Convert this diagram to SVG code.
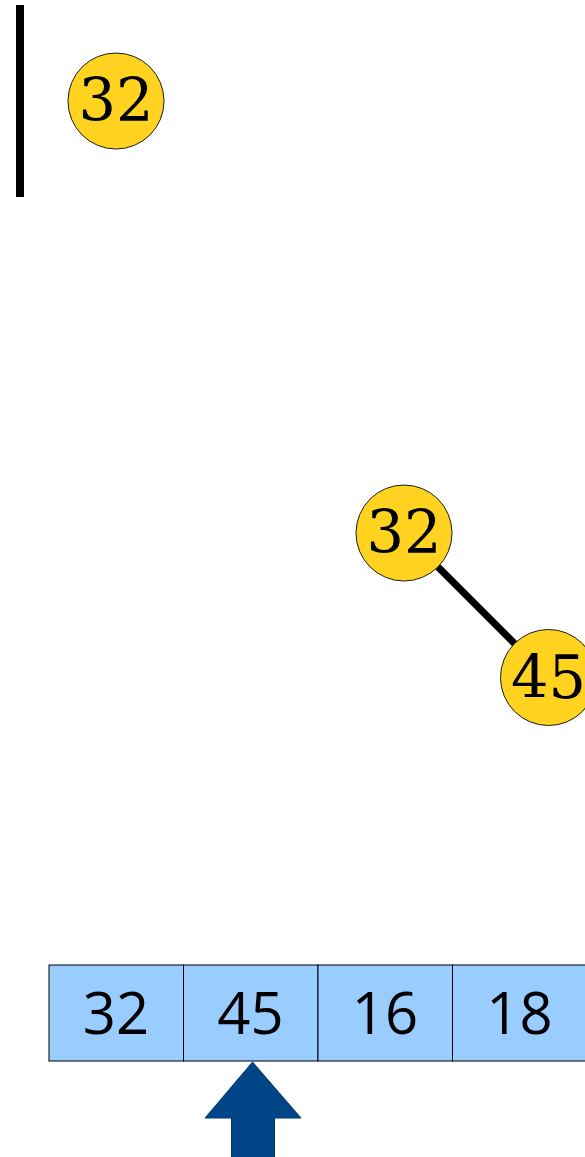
<svg xmlns="http://www.w3.org/2000/svg" width="585" height="1157" viewBox="0 0 585 1157">
<style>
.node circle{fill:#ffd320;stroke:#1a1a1a;stroke-width:1}
.node text{font-family:"DejaVu Serif",serif;font-size:59px;text-anchor:middle;fill:#000}
.cell rect{fill:#99ccff;stroke:#000;stroke-width:1}
.cell text{font-family:"Open Sans","Noto Sans",sans-serif;font-size:58px;text-anchor:middle;fill:#000}
</style>
<rect id="bar" x="16" y="5" width="8" height="192" fill="#000"/>
<g id="connectors">
<line x1="404" y1="533" x2="548.5" y2="677.5" stroke="#000" stroke-width="7"/>
</g>
<g id="n32a" class="node"><circle cx="116" cy="101" r="48"/><text x="116" y="121">32</text></g>
<g id="n32b" class="node"><circle cx="404" cy="533" r="48"/><text x="404" y="553">32</text></g>
<g id="n45" class="node"><circle cx="548.5" cy="677.5" r="48"/><text x="548.5" y="698">45</text></g>
<g id="array">
<g class="cell"><rect x="49" y="965" width="134.5" height="96"/><text x="116" y="1034">32</text></g>
<g class="cell"><rect x="183.5" y="965" width="134.5" height="96"/><text x="250.5" y="1034">45</text></g>
<g class="cell"><rect x="318" y="965" width="134.5" height="96"/><text x="385" y="1034">16</text></g>
<g class="cell"><rect x="452.5" y="965" width="134.5" height="96"/><text x="519.5" y="1034">18</text></g>
</g>
<g id="pointer"><polygon points="252.5,1062 301,1118 274.5,1118 274.5,1160 231.5,1160 231.5,1118 205,1118" fill="#004586" stroke="#003a70" stroke-width="1"/></g>
</svg>
